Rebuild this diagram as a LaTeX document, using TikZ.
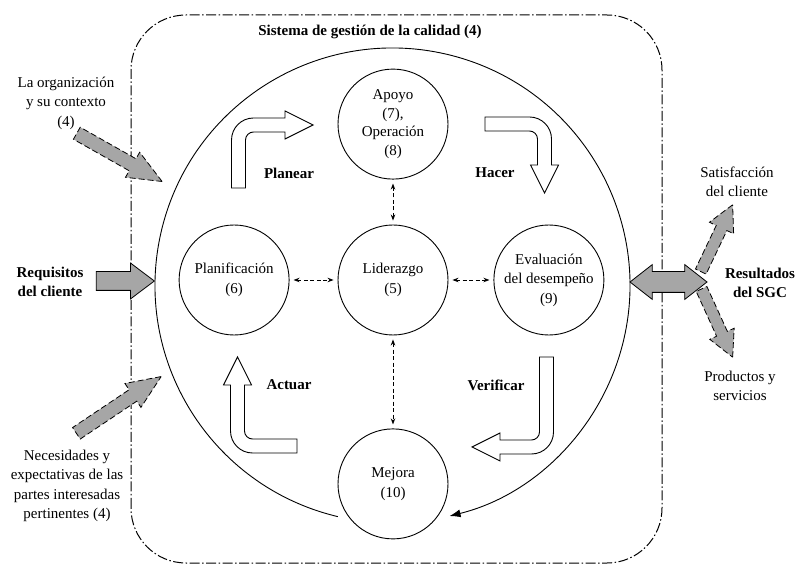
\documentclass[tikz,border=0pt]{standalone}
\usepackage{fontspec}
\setmainfont{Liberation Serif}
\usetikzlibrary{
  arrows.meta,   % Stealth、Latex 箭头
  shapes.arrows, % 灰色块状箭头
  positioning    % 节点相对定位
}
\newcommand{\lbfont}{\fontsize{15}{19.5}\selectfont}
\tikzset{
  proc/.style={circle, draw, line width=0.9pt, minimum size=110pt, inner sep=0pt, align=center, font=\lbfont},
  lbl/.style={align=center, font=\lbfont},
  phase/.style={align=center, font=\lbfont\bfseries},
  link/.style={{Stealth[length=6pt,width=4.5pt]}-{Stealth[length=6pt,width=4.5pt]}, dash pattern=on 4pt off 2.5pt, line width=0.85pt, shorten <=4pt, shorten >=4pt},
  grayarrow/.style={single arrow, draw, fill=black!35, line width=0.8pt, inner xsep=0pt, single arrow head indent=0pt, minimum width=1pt},
  outdash/.style={dash pattern=on 6pt off 3pt},
  hollow/.style={draw, fill=white, line width=0.9pt}
}

\begin{document}
\begin{tikzpicture}[x=1pt, y=1pt, >=Stealth]
    \useasboundingbox (0,0) rectangle (795,565);

    % --- 外框：质量管理体系 ---
    \draw[line width=1pt, dash pattern=on 10pt off 2.5pt on 1.5pt off 2.5pt, rounded corners=55pt] (131,2) rectangle (662,550);
    \node[phase] (titulo) at (370,533) {Sistema de gestión de la calidad (4)};

    % --- 大圆（PDCA 循环） ---
    \coordinate (ciclo) at (392.5,279.5);
    \draw[line width=0.9pt, -{Latex[length=11pt,width=8pt]}] (ciclo) ++(256.7:237.5) arc[start angle=256.7, end angle=-76.1, radius=237.5];

    % --- 五个过程圆 ---
    \node[proc] (lid) at (393,285) {Liderazgo\\(5)};
    \node[proc, left=48pt of lid] (plan) {Planificación\\(6)};
    \node[proc, right=45pt of lid] (eval) {Evaluación\\del desempeño\\(9)};
    \node[proc, above=45pt of lid, font=\fontsize{15}{18.5}\selectfont] (apoyo) {Apoyo\\(7),\\Operación\\(8)};
    \node[proc, below=93pt of lid] (mejora) {Mejora\\(10)};

    \draw[link] (plan) -- (lid);
    \draw[link] (lid) -- (eval);
    \draw[link] (lid) -- (apoyo);
    \draw[link] (lid) -- (mejora);

    % --- 四个空心弯箭头 ---
    \foreach \cx/\cy/\rot/\la/\lb in {238.5/440/0/63/46.5, 544.5/441/-90/59.5/41, 546.5/118/180/90/46.5, 237.5/119/90/59.5/61}{
      \begin{scope}[shift={(\cx,\cy)}, rotate=\rot]
        \draw[hollow] (-7,-\la) -- (-7,-15) arc[start angle=180, end angle=90, radius=22] -- (\lb,7) -- (\lb,14) -- (\lb+28,0) -- (\lb,-14) -- (\lb,-7) -- (15,-7) arc[start angle=90, end angle=180, radius=8] -- (7,-\la) -- cycle;
      \end{scope}
    }
    \node[phase] (planear) at (289,392) {Planear};
    \node[phase] (hacer) at (495,392) {Hacer};
    \node[phase] (verificar) at (496,180) {Verificar};
    \node[phase] (actuar) at (289,180) {Actuar};

    % --- 左侧输入 ---
    \node[lbl] (org) at (66,462) {La organización\\y su contexto\\(4)};
    \node[grayarrow, outdash, minimum height=98pt, inner ysep=6.5pt, single arrow head extend=7.5pt, single arrow tip angle=46, rotate=-29.5, anchor=tip] (orgarrow) at (163,383) {};

    \node[phase] (req) at (50,283) {Requisitos\\del cliente};
    \node[grayarrow, minimum height=58pt, inner ysep=9pt, single arrow head extend=8.5pt, single arrow tip angle=74, anchor=tip] (reqarrow) at (155,284) {};

    \node[lbl] (nec) at (67,79) {Necesidades y\\expectativas de las\\partes interesadas\\pertinentes (4)};
    \node[grayarrow, outdash, minimum height=102pt, inner ysep=6.5pt, single arrow head extend=7.5pt, single arrow tip angle=46, rotate=33.8, anchor=tip] (necarrow) at (162,189) {};

    % --- 右侧输出 ---
    \node[double arrow, draw, fill=black!35, line width=0.8pt, inner xsep=0pt, inner ysep=10pt, minimum height=77pt, double arrow head extend=7pt, double arrow tip angle=76, double arrow head indent=0pt] (resarrow) at (668.5,283) {};
    \node[phase] (res) at (760,282) {Resultados\\del SGC};

    \node[grayarrow, outdash, minimum height=74pt, inner ysep=5.5pt, single arrow head extend=7.5pt, single arrow tip angle=55, rotate=64.5, anchor=tip] (satarrow) at (733,361) {};
    \node[lbl] (sat) at (737,383) {Satisfacción\\del cliente};

    \node[grayarrow, outdash, minimum height=75pt, inner ysep=5.5pt, single arrow head extend=7.5pt, single arrow tip angle=55, rotate=-65.5, anchor=tip] (proarrow) at (733,207) {};
    \node[lbl] (pro) at (740,179) {Productos y\\servicios};

  \end{tikzpicture}
\end{document}
